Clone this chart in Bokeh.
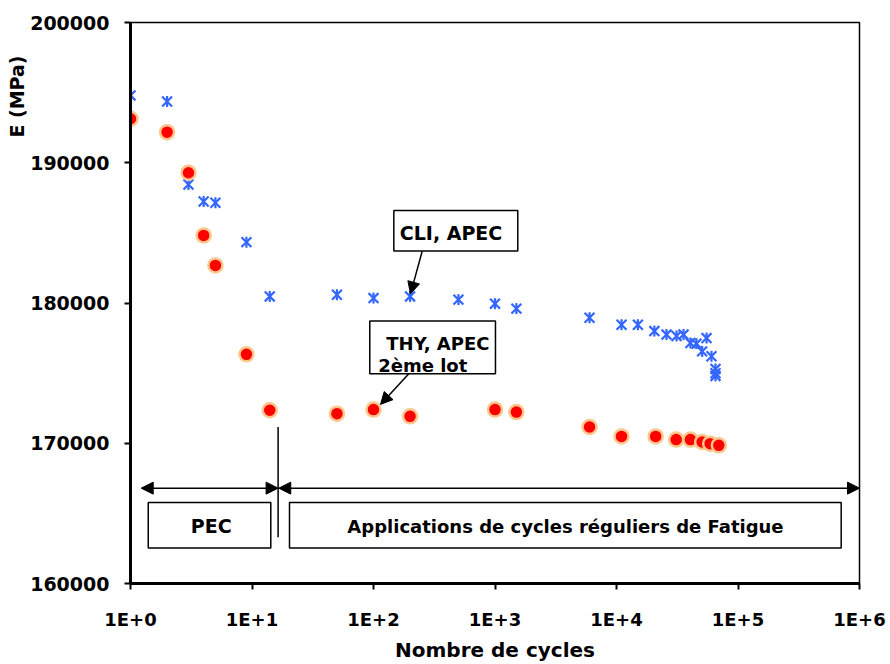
import numpy as np
from bokeh.plotting import figure
from bokeh.models import FixedTicker, Label, Arrow, NormalHead, Range1d, NumeralTickFormatter, Title
from bokeh.embed import file_html
from bokeh.resources import INLINE

# ---- data ----
cli_cycles = [1, 2, 3, 4, 5, 9, 14, 50, 100, 200, 500, 1000, 1500, 6000, 11000, 15000,
              20500, 25800, 31200, 35600, 40600, 45500, 50700, 55100, 60500, 65300, 65300, 65300]
cli_E = [194800, 194370, 188450, 187240, 187150, 184340, 180470, 180590, 180350, 180470,
         180240, 179950, 179600, 178950, 178450, 178450, 178000, 177750, 177650, 177750,
         177150, 177100, 176550, 177500, 176200, 175300, 175000, 174800]

thy_cycles = [1, 2, 3, 4, 5, 9, 14, 50, 100, 200, 1000, 1500, 6000, 11000, 21000, 31000,
              40600, 50700, 59000, 69500]
thy_E = [193140, 192180, 189290, 184820, 182680, 176340, 172350, 172110, 172400, 171920,
         172400, 172220, 171160, 170490, 170490, 170260, 170260, 170090, 169970, 169850]

x_ticks = [1, 10, 100, 1000, 10000, 100000, 1000000]
x_tick_labels = ["1E+0", "1E+1", "1E+2", "1E+3", "1E+4", "1E+5", "1E+6"]
y_ticks = [160000, 170000, 180000, 190000, 200000]

FONT = "DejaVu Sans"
BLUE = "#3366FF"

p = figure(width=890, height=664, x_axis_type="log",
           x_range=Range1d(1, 1e6), y_range=Range1d(160000, 200000),
           output_backend="svg", toolbar_location=None,
           min_border_left=130, min_border_right=31, min_border_top=22, min_border_bottom=81)
p.background_fill_color = "white"
p.border_fill_color = "white"
p.xgrid.visible = False
p.ygrid.visible = False
p.outline_line_color = "black"
p.outline_line_width = 1.5

p.xaxis.ticker = FixedTicker(ticks=x_ticks, minor_ticks=[])
p.xaxis.major_label_overrides = dict(zip(x_ticks, x_tick_labels))
p.yaxis.ticker = FixedTicker(ticks=y_ticks, minor_ticks=[])
p.yaxis.formatter = NumeralTickFormatter(format="0")

for ax in (p.xaxis[0], p.yaxis[0]):
    ax.axis_line_width = 3
    ax.axis_line_color = "black"
    ax.major_tick_line_width = 2
    ax.major_tick_line_color = "black"
    ax.major_tick_in = 0
    ax.major_tick_out = 6
    ax.minor_tick_in = 0
    ax.minor_tick_out = 0
    ax.major_label_text_font = FONT
    ax.major_label_text_font_style = "bold"
    ax.major_label_text_color = "black"
p.xaxis.major_label_text_font_size = "18px"
p.yaxis.major_label_text_font_size = "19px"
p.yaxis.major_label_standoff = 15
p.xaxis.major_label_standoff = 19

p.xaxis.axis_label = "Nombre de cycles"
p.xaxis.axis_label_text_font = FONT
p.xaxis.axis_label_text_font_style = "bold"
p.xaxis.axis_label_text_font_size = "20px"
p.xaxis.axis_label_text_color = "black"
p.xaxis.axis_label_standoff = 5

p.add_layout(Title(text="E (MPa)", align="right", offset=33, standoff=0, text_font=FONT,
                   text_font_style="bold", text_font_size="19px", text_color="black"), "left")

# ---- series ----
p.scatter(cli_cycles, cli_E, marker="x", size=14, line_color=BLUE, line_width=2.2)
p.scatter(cli_cycles, cli_E, marker="dash", angle=np.pi / 2, size=11, line_color=BLUE, line_width=2.2)
p.scatter(thy_cycles, thy_E, marker="circle", size=14, fill_color="#FF0000",
          line_color="#FFC68C", line_width=2.5)

# ---- annotations ----
head = lambda: NormalHead(size=12, fill_color="black", line_color="black")

# annotation boxes
box_left = [1.4, 20.35, 147, 93.2]
box_right = [14.28, 706800, 1540, 1009]
box_top = [165770, 165770, 186600, 178710]
box_bottom = [162530, 162530, 183700, 174960]
p.quad(left=box_left, right=box_right, top=box_top, bottom=box_bottom,
       fill_color="white", line_color="black", line_width=1.5)

# phase arrows
p.add_layout(Arrow(start=head(), end=head(), x_start=1.225, y_start=166800,
                   x_end=16.4, y_end=166800, line_width=1.5, line_color="black"))
p.add_layout(Arrow(start=head(), end=head(), x_start=16.6, y_start=166800,
                   x_end=1e6, y_end=166800, line_width=1.5, line_color="black"))
p.segment(x0=[16.4], y0=[171150], x1=[16.4], y1=[163300], line_color="black", line_width=1.5)

# pointer arrows
p.add_layout(Arrow(end=head(), x_start=251.7, y_start=183700, x_end=201.6, y_end=180650,
                   line_width=1.5, line_color="black"))
p.add_layout(Arrow(end=head(), x_start=195.2, y_start=174960, x_end=114.2, y_end=172770,
                   line_width=1.5, line_color="black"))

def lab(x, y, text, align="center", size="19px"):
    p.add_layout(Label(x=x, y=y, text=text, text_align=align, text_baseline="alphabetic",
                       text_font=FONT, text_font_style="bold", text_font_size=size,
                       text_color="black"))

lab(434.5, 184960, "CLI, APEC")
lab(338.8, 177120, "THY, APEC", size="18px")
lab(109.3, 175560, "2ème lot", align="left", size="18px")
lab(4.615, 164080, "PEC")
lab(3802, 164080, "Applications de cycles réguliers de Fatigue", size="18px")

open("out.html", "w").write(file_html(p, INLINE))
